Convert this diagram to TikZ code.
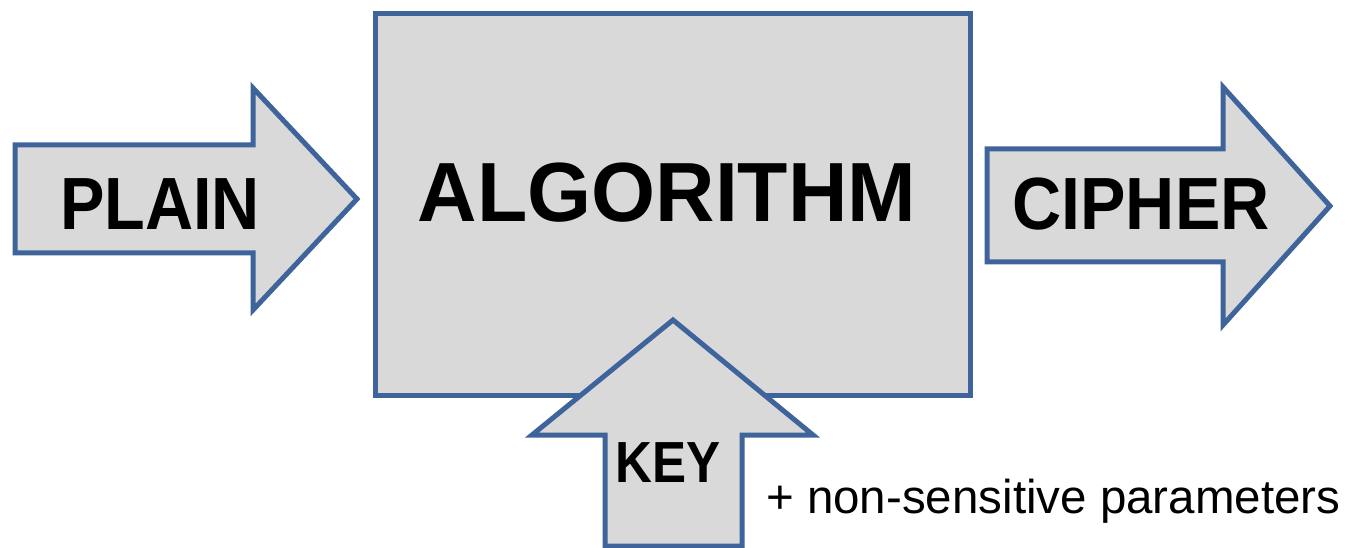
\documentclass[tikz,border=0pt]{standalone}
\usepackage{fontspec}
\setmainfont{Liberation Sans}
\definecolor{edgeblue}{RGB}{63,100,155}
\definecolor{panelgray}{RGB}{217,217,217}
\tikzset{
  shapebox/.style={draw=edgeblue, fill=panelgray, line width=5pt, line join=miter},
  bigword/.style={inner sep=0pt, anchor=base, font=\bfseries},
}
\begin{document}
\begin{tikzpicture}[x=1pt, y=-1pt]
  \useasboundingbox (0,0) rectangle (1345,548);
  % central processing block
  \draw[shapebox] (375,14) rectangle (970,395);
  \node[bigword, font=\fontsize{84}{84}\selectfont\bfseries, xscale=0.98] (algo) at (667,222) {ALGORITHM};
  % input arrow
  \draw[shapebox] (15,145) -- (253,145) -- (253,88) -- (357,199) -- (253,310) -- (253,253) -- (15,253) -- cycle;
  \node[bigword, font=\fontsize{74}{74}\selectfont\bfseries, xscale=0.9] (plain) at (160,230) {PLAIN};
  % output arrow
  \draw[shapebox] (987,149) -- (1223,149) -- (1223,87) -- (1330,206) -- (1223,325) -- (1223,262) -- (987,262) -- cycle;
  \node[bigword, font=\fontsize{74}{74}\selectfont\bfseries, xscale=0.92] (cipher) at (1141,230) {CIPHER};
  % key arrow entering from below
  \draw[shapebox] (605,546) -- (605,435) -- (532,435) -- (673,320) -- (813,435) -- (742,435) -- (742,546) -- cycle;
  \node[bigword, font=\fontsize{58}{58}\selectfont\bfseries, xscale=0.88] (key) at (668,482) {KEY};
  % side note
  \node[inner sep=0pt, anchor=base west, font=\fontsize{47.5}{47.5}\selectfont] (params) at (766,513) {+ non-sensitive parameters};
\end{tikzpicture}
\end{document}
